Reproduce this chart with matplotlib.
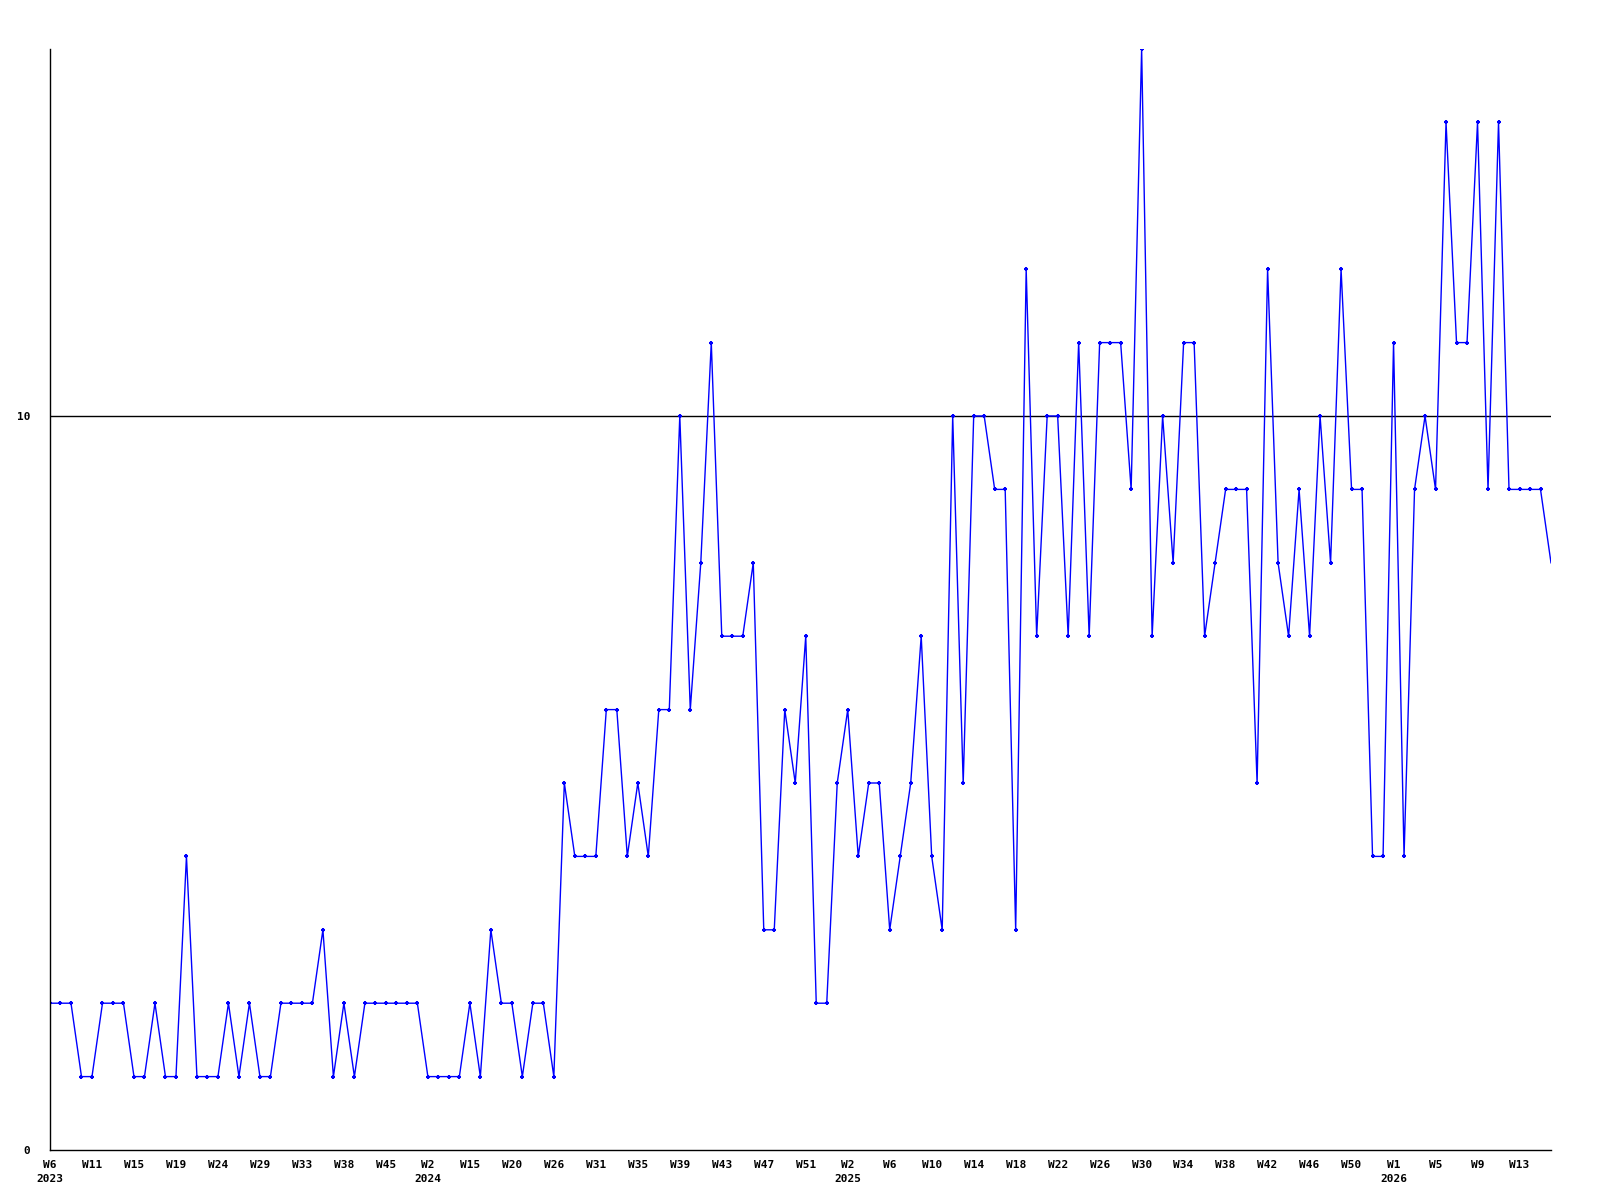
import matplotlib
matplotlib.use('Agg')
import matplotlib.pyplot as plt

# weekly counts, one value per sample
values = [
    2, 2, 2, 1, 1, 2, 2, 2, 1, 1, 2, 1, 1, 4, 1, 1, 1, 2, 1, 2,
    1, 1, 2, 2, 2, 2, 3, 1, 2, 1, 2, 2, 2, 2, 2, 2, 1, 1, 1, 1,
    2, 1, 3, 2, 2, 1, 2, 2, 1, 5, 4, 4, 4, 6, 6, 4, 5, 4, 6, 6,
    10, 6, 8, 11, 7, 7, 7, 8, 3, 3, 6, 5, 7, 2, 2, 5, 6, 4, 5, 5,
    3, 4, 5, 7, 4, 3, 10, 5, 10, 10, 9, 9, 3, 12, 7, 10, 10, 7, 11, 7,
    11, 11, 11, 9, 15, 7, 10, 8, 11, 11, 7, 8, 9, 9, 9, 5, 12, 8, 7, 9,
    7, 10, 8, 12, 9, 9, 4, 4, 11, 4, 9, 10, 9, 14, 11, 11, 14, 9, 14, 9,
    9, 9, 9, 8,
]

week_labels = [
    'W6', 'W11', 'W15', 'W19', 'W24', 'W29', 'W33', 'W38', 'W45',
    'W2', 'W15', 'W20', 'W26', 'W31', 'W35', 'W39', 'W43', 'W47', 'W51',
    'W2', 'W6', 'W10', 'W14', 'W18', 'W22', 'W26', 'W30', 'W34', 'W38',
    'W42', 'W46', 'W50',
    'W1', 'W5', 'W9', 'W13',
]
years = {0: '2023', 9: '2024', 19: '2025', 32: '2026'}
label_step = 4

font = dict(family='DejaVu Sans Mono', weight='bold', size=8)

fig = plt.figure(figsize=(16, 12), dpi=100)
ax = fig.add_axes([50 / 1600, 50 / 1200, 1501 / 1600, 1101 / 1200])

x = list(range(len(values)))
# last sample sits on the right edge, its marker is cut off
ax.plot(x, values, color='#0000ff', linewidth=1.0, marker='+',
        markersize=3.5, markeredgewidth=1.5,
        markevery=slice(0, len(values) - 1))
ax.axhline(10, color='black', linewidth=1.0, zorder=0)

ax.set_xlim(0, len(values) - 1)
ax.set_ylim(0, 15)

ticks = [i * label_step for i in range(len(week_labels))]
labels = []
for i, w in enumerate(week_labels):
    labels.append(w + '\n' + years[i] if i in years else w)
ax.set_xticks(ticks)
ax.set_xticklabels(labels, fontdict=font, linespacing=1.5, va='top')
ax.set_yticks([0, 10])
ax.set_yticklabels(['0', '10'], fontdict=font)
ax.tick_params(length=0)
ax.tick_params(axis='x', pad=7)
ax.tick_params(axis='y', pad=14)

ax.spines['top'].set_visible(False)
ax.spines['right'].set_visible(False)
ax.spines['left'].set_linewidth(1.0)
ax.spines['bottom'].set_linewidth(1.0)

plt.savefig('out.png', dpi=100)
